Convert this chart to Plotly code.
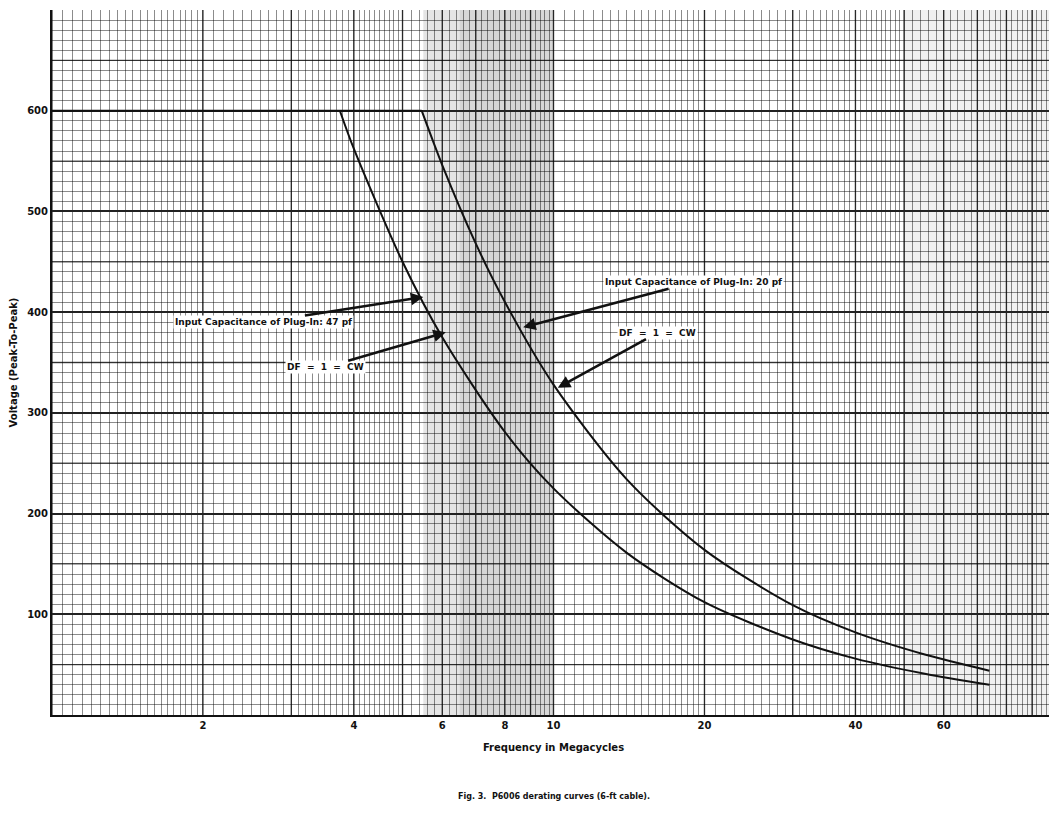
import numpy as np
import plotly.graph_objects as go

# 47 pf curve
flat_47 = [1, 3.75]
f_47 = [3.75, 4, 5, 6, 8, 10, 14, 20, 30, 40, 55, 74]
v_47 = [600, 562, 450, 375, 281, 225, 161, 112, 75, 56, 41, 30]

# 20 pf curve
flat_20 = [3.75, 5.46]
f_20 = [5.46, 6, 7, 8, 10, 14, 20, 30, 40, 55, 74]
v_20 = [600, 546, 468, 410, 328, 234, 164, 109, 82, 60, 44]

x_ticks = [2, 4, 6, 8, 10, 20, 40, 60]
y_ticks = [100, 200, 300, 400, 500, 600]

# graph-paper rulings
fine_x = np.concatenate([np.arange(1, 2, 0.05), np.arange(2, 5, 0.1), np.arange(5, 10, 0.2)])
fine_x = np.concatenate([fine_x, fine_x * 10, [100]])
heavy_x = [1, 2, 3, 4, 5, 6, 7, 8, 9, 10, 20, 30, 40, 50, 60, 70, 80, 90, 100]

fig = go.Figure()
line = dict(color="#111", width=2)
fig.add_trace(go.Scatter(x=flat_47, y=[600, 600], mode="lines", line=line))
fig.add_trace(go.Scatter(x=flat_20, y=[600, 600], mode="lines", line=line))
fig.add_trace(go.Scatter(x=f_47, y=v_47, mode="lines", line=dict(line, smoothing=0.8), line_shape="spline"))
fig.add_trace(go.Scatter(x=f_20, y=v_20, mode="lines", line=dict(line, smoothing=0.8), line_shape="spline"))

# dark band from the scan
fig.add_vrect(x0=5.5, x1=10, fillcolor="rgba(0,0,0,0.10)", line_width=0, layer="below")
fig.add_vrect(x0=6.5, x1=10, fillcolor="rgba(0,0,0,0.06)", line_width=0, layer="below")
fig.add_vrect(x0=50, x1=100, fillcolor="rgba(0,0,0,0.06)", line_width=0, layer="below")

font = dict(family="DejaVu Sans", size=10, color="#111")
fig.update_layout(
    width=1057, height=818, showlegend=False,
    plot_bgcolor="white", paper_bgcolor="white",
    margin=dict(l=44, r=10, t=2, b=111),
    font=font,
    xaxis=dict(type="log", range=[0, 2], tickvals=x_ticks, ticktext=[str(t) for t in x_ticks],
               automargin=False,
               showgrid=False, zeroline=False, showline=True, linecolor="#111", linewidth=2,
               mirror=False, ticks="", tickfont=dict(size=10, family="DejaVu Sans", weight="bold"),
               title=dict(text="<b>Frequency in Megacycles</b>", font=dict(size=10), standoff=14),
               minor=dict(tickvals=list(fine_x), showgrid=True, gridcolor="rgba(0,0,0,0.45)",
                          gridwidth=1, ticks="")),
    yaxis=dict(range=[0, 700], tickvals=y_ticks, showgrid=True, gridcolor="#222", gridwidth=1.6,
               automargin=False,
               zeroline=False, showline=True, linecolor="#111", linewidth=2, ticks="",
               tickfont=dict(size=10, family="DejaVu Sans", weight="bold"),
               title=dict(text="<b>Voltage (Peak-To-Peak)</b>", font=dict(size=10), standoff=10),
               minor=dict(dtick=10, showgrid=True, gridcolor="rgba(0,0,0,0.45)", gridwidth=1)),
)
# heavier vertical rulings at whole numbers
for hx in heavy_x:
    fig.add_shape(type="line", x0=hx, x1=hx, y0=0, y1=700, xref="x", yref="y",
                  line=dict(color="rgba(0,0,0,0.7)", width=1.4), layer="below")
for hy in [50, 150, 250, 350, 450, 550, 650]:
    fig.add_shape(type="line", x0=1, x1=100, y0=hy, y1=hy, xref="x", yref="y",
                  line=dict(color="rgba(0,0,0,0.65)", width=1.3), layer="below")

ann = dict(showarrow=True, arrowhead=2, arrowsize=1, arrowwidth=2.5, arrowcolor="#111",
           axref="pixel", ayref="pixel", bgcolor="white",
           font=dict(size=9, family="DejaVu Sans", color="#111", weight="bold"))
fig.add_annotation(x=np.log10(5.5), y=415, text="Input Capacitance of Plug-In: 47 pf",
                   ax=-160, ay=25, **ann)
fig.add_annotation(x=np.log10(6.1), y=380, text="DF  =  1  =  CW", ax=-120, ay=35, **ann)
fig.add_annotation(x=np.log10(8.7), y=385, text="Input Capacitance of Plug-In: 20 pf",
                   ax=170, ay=-45, **ann)
fig.add_annotation(x=np.log10(10.2), y=325, text="DF  =  1  =  CW", ax=100, ay=-55, **ann)

fig.add_annotation(xref="paper", yref="paper", x=0.5, y=-0.125, showarrow=False,
                   text="<b>Fig. 3.  P6006 derating curves (6-ft cable).</b>",
                   font=dict(size=8, family="DejaVu Sans"))

fig.write_html("out.html")
